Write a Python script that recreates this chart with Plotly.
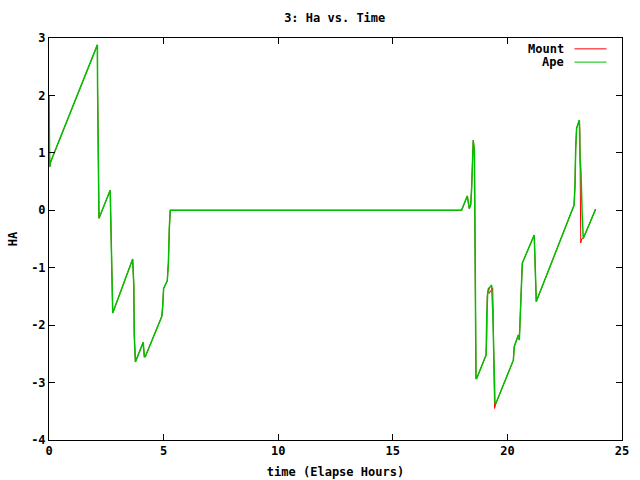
import plotly.graph_objects as go

# Ape series (hours, HA)
ape_t = [0.0, 0.005, 0.02, 0.03, 0.07, 2.11, 2.12, 2.14, 2.18, 2.67, 2.69, 2.73, 2.78,
         3.65, 3.70, 3.72, 3.77, 4.11, 4.16, 4.20, 4.92, 4.96, 5.00, 5.16, 5.21, 5.25, 5.29,
         18.00, 18.25, 18.34, 18.40, 18.44, 18.49, 18.51, 18.56, 18.59, 18.63, 18.66,
         19.07, 19.10, 19.14, 19.22, 19.31, 19.36, 19.42, 19.46, 19.50,
         20.26, 20.30, 20.48, 20.52, 20.56, 20.61, 20.65, 21.17, 21.22, 21.26,
         22.91, 22.95, 22.98, 23.02, 23.07, 23.14, 23.17, 23.21, 23.26, 23.31, 23.85]
ape_ha = [2.00, 1.52, 1.50, 0.76, 0.84, 2.88, 2.13, 0.61, -0.14, 0.35, -0.18, -1.24, -1.79,
          -0.85, -1.30, -2.17, -2.64, -2.30, -2.55, -2.55, -1.85, -1.68, -1.36, -1.23, -0.91, -0.31, 0.00,
          0.00, 0.25, 0.03, 0.10, 0.39, 0.95, 1.22, 1.04, -1.21, -2.93, -2.93,
          -2.52, -1.85, -1.42, -1.35, -1.30, -1.74, -2.60, -3.36, -3.36,
          -2.61, -2.37, -2.17, -2.26, -1.91, -1.27, -0.92, -0.43, -1.30, -1.59,
          0.09, 0.44, 1.08, 1.43, 1.49, 1.57, 0.90, 0.67, -0.05, -0.49, 0.02]

# Mount series (hours, HA)
mount_t = [0.0, 0.005, 0.02, 0.03, 0.07, 2.11, 2.12, 2.14, 2.18, 2.67, 2.69, 2.73, 2.78,
           3.65, 3.70, 3.72, 3.77, 4.11, 4.16, 4.20, 4.92, 4.96, 5.00, 5.16, 5.21, 5.25, 5.29,
           18.00, 18.25, 18.34, 18.40, 18.44, 18.49, 18.51, 18.56, 18.59, 18.63, 18.66,
           19.07, 19.10, 19.12, 19.17, 19.20, 19.36, 19.40, 19.44, 19.50,
           20.26, 20.30, 20.48, 20.52, 20.56, 20.61, 20.65, 21.17, 21.22, 21.26,
           22.91, 22.95, 22.98, 23.02, 23.07, 23.14, 23.16, 23.20, 23.24, 23.31, 23.85]
mount_ha = [2.00, 1.52, 1.50, 0.76, 0.84, 2.88, 2.13, 0.61, -0.14, 0.35, -0.18, -1.24, -1.79,
            -0.85, -1.30, -2.17, -2.64, -2.30, -2.55, -2.55, -1.85, -1.68, -1.36, -1.23, -0.91, -0.31, 0.00,
            0.00, 0.25, 0.03, 0.10, 0.39, 0.95, 1.22, 1.04, -1.21, -2.93, -2.93,
            -2.52, -2.20, -1.50, -1.35, -1.45, -1.35, -2.90, -3.45, -3.36,
            -2.61, -2.37, -2.17, -2.26, -1.91, -1.27, -0.92, -0.43, -1.30, -1.59,
            0.09, 0.44, 1.08, 1.43, 1.49, 1.57, 1.40, -0.57, -0.50, -0.49, 0.02]

x_ticks = [0, 5, 10, 15, 20, 25]
y_ticks = [-4, -3, -2, -1, 0, 1, 2, 3]

RED = "#ff0000"
GREEN = "#00c000"
FONT = "DejaVu Sans Mono"
TXT = dict(family=FONT, size=12, color="black", weight="bold")

fig = go.Figure()
fig.add_trace(go.Scatter(x=mount_t, y=mount_ha, mode="lines", name="Mount",
                         line=dict(color=RED, width=1)))
fig.add_trace(go.Scatter(x=ape_t, y=ape_ha, mode="lines", name="Ape",
                         line=dict(color=GREEN, width=1.5)))

axis_common = dict(showline=True, linecolor="black", linewidth=1, mirror="allticks",
                   ticks="inside", ticklen=6, tickcolor="black", tickwidth=1,
                   showgrid=False, zeroline=False, automargin=False,
                   tickfont=TXT)

fig.update_xaxes(range=[0, 25], tickvals=x_ticks, ticktext=[str(v) for v in x_ticks],
                 title=dict(text="time (Elapse Hours)", font=TXT, standoff=10),
                 **axis_common)
fig.update_yaxes(range=[-4, 3], tickvals=y_ticks, ticktext=[str(v) for v in y_ticks],
                 title=dict(text="HA", font=TXT, standoff=10),
                 **axis_common)

# gnuplot-style legend: text on the left, line sample on the right
legend_items = [("Mount", RED), ("Ape", GREEN)]
for i, (name, col) in enumerate(legend_items):
    yy = 0.973 - i * 0.033
    fig.add_annotation(xref="paper", yref="paper", x=0.903, y=yy, text=name,
                       showarrow=False, xanchor="right", yanchor="middle", font=TXT)
    fig.add_shape(type="line", xref="paper", yref="paper", x0=0.917, x1=0.973, y0=yy, y1=yy,
                  line=dict(color=col, width=1))

fig.update_layout(
    width=640, height=480,
    margin=dict(l=49, r=18, t=38, b=40, autoexpand=False),
    paper_bgcolor="white", plot_bgcolor="white",
    showlegend=False,
    title=dict(text="3: Ha vs. Time", x=0.523, xanchor="center", y=0.962, yanchor="middle",
               font=TXT),
)

fig.write_html("out.html")
